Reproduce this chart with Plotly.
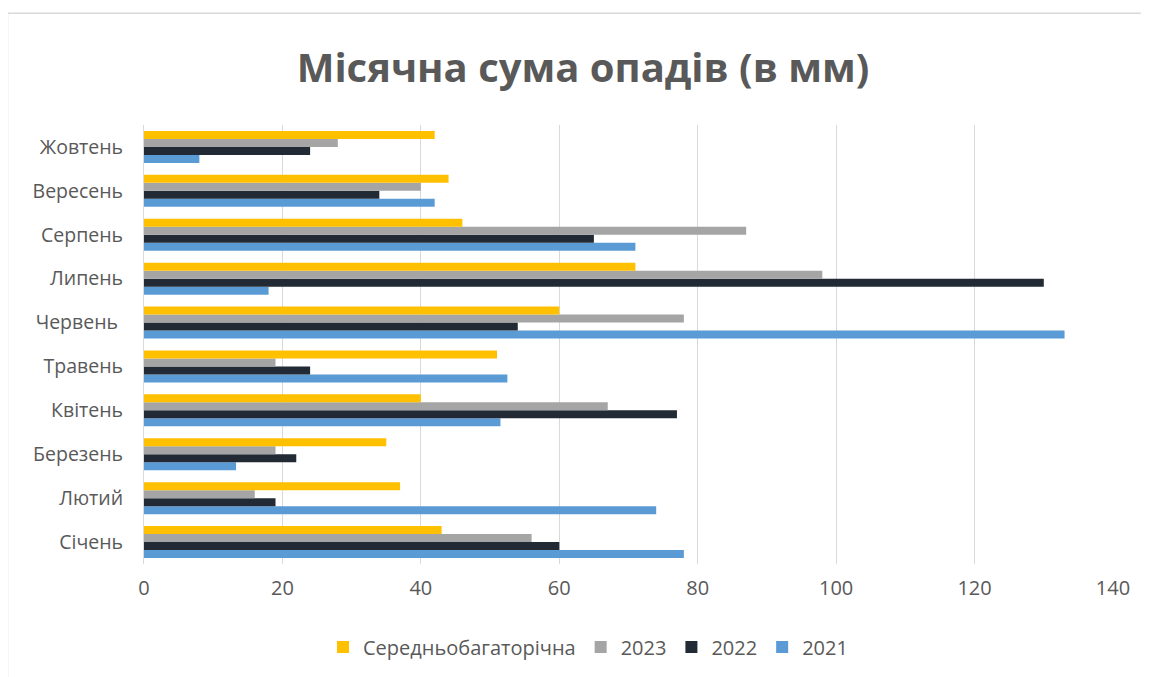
import plotly.graph_objects as go

months = ["Січень", "Лютий", "Березень", "Квітень", "Травень",
          "Червень ", "Липень", "Серпень", "Вересень", "Жовтень"]
y2021 = [78, 74, 13.3, 51.5, 52.5, 133, 18, 71, 42, 8]
y2022 = [60, 19, 22, 77, 24, 54, 130, 65, 34, 24]
y2023 = [56, 16, 19, 67, 19, 78, 98, 87, 40, 28]
norm = [43, 37, 35, 40, 51, 60, 71, 46, 44, 42]

series = [
    ("2021", y2021, "#5B9BD5"),
    ("2022", y2022, "#222A35"),
    ("2023", y2023, "#A5A5A5"),
    ("Середньобагаторічна", norm, "#FFC000"),
]

fig = go.Figure()
for name, vals, col in series:
    fig.add_trace(go.Bar(y=months, x=vals, name=name, orientation="h",
                         marker=dict(color=col, line=dict(width=0))))

OFF = 8  # browser body margin
W, H = 1149 - OFF, 677 - OFF
# plot area in screen pixels
PX0, PX1, PY0, PY1 = 144, 1113, 125, 565
L, R, T, B = PX0 - OFF, W - (PX1 - OFF), PY0 - OFF, H - (PY1 - OFF)
pw, ph = PX1 - PX0, PY1 - PY0

def px_x(p):
    return (p - PX0) / pw

def px_y(p):
    return (PY1 - p) / ph

font = "Open Sans, Noto Sans, sans-serif"
fig.update_layout(
    width=W, height=H,
    margin=dict(l=L, r=R, t=T, b=B, pad=0),
    paper_bgcolor="white", plot_bgcolor="white",
    barmode="group", bargap=0.27, bargroupgap=0,
    title=dict(text="<b>Місячна сума опадів (в мм)</b>", x=px_x(583), xref="paper",
               xanchor="center", y=1 - (68 - OFF) / H, yanchor="middle",
               font=dict(family=font, size=40, color="#595959")),
    font=dict(family=font, size=19, color="#595959"),
    xaxis=dict(range=[0, 140], dtick=20, showgrid=True, gridcolor="#D9D9D9",
               gridwidth=1, zeroline=False, showline=False, ticks="",
               tickfont=dict(size=20, color="#595959"), ticklabelstandoff=10),
    yaxis=dict(showgrid=False, showline=True, linecolor="#D9D9D9", linewidth=1,
               ticks="", tickfont=dict(size=19.5, color="#595959"),
               ticklabelstandoff=16),
    legend=dict(orientation="h", x=px_x(588), xanchor="center",
                y=px_y(647), yanchor="middle", traceorder="reversed",
                font=dict(size=20, color="#595959"), itemwidth=30),
    showlegend=True,
    shapes=[
        dict(type="line", xref="paper", yref="paper",
             x0=px_x(7.5), x1=px_x(7.5), y0=px_y(13), y1=px_y(700),
             line=dict(color="#D9D9D9", width=1.5)),
        dict(type="line", xref="paper", yref="paper",
             x0=px_x(7.5), x1=px_x(1160), y0=px_y(13), y1=px_y(13),
             line=dict(color="#D9D9D9", width=1.5)),
    ],
)

fig.write_html("out.html")
